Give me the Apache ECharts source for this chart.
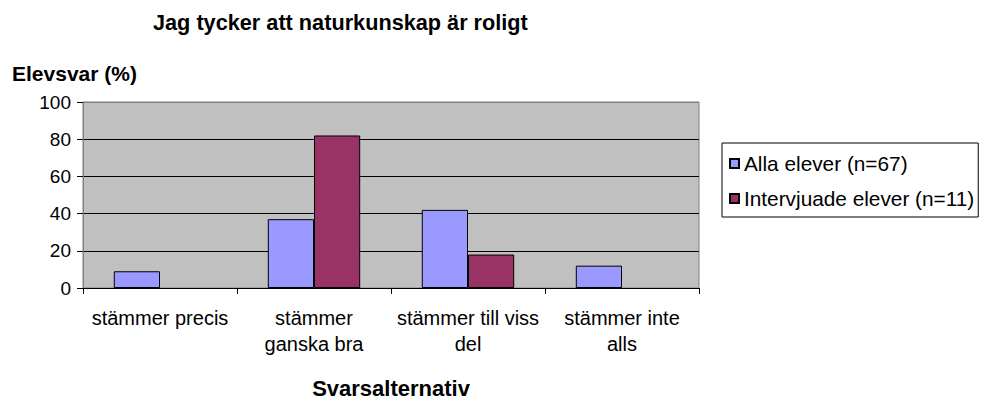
<!DOCTYPE html>
<html>
<head>
<meta charset="utf-8">
<script src="https://cdn.jsdelivr.net/npm/echarts@6/dist/echarts.min.js"></script>
<style>
	html, body { margin: 0; padding: 0; background: #fff; }
	#chart { width: 982px; height: 400px; }
</style>
</head>
<body>
<div id="chart"></div>
<script>
	var categories = ['stämmer precis', 'stämmer\nganska bra', 'stämmer till viss\ndel', 'stämmer inte\nalls'];
	// '-' = inget svar i den kategorin (ingen stapel ritas)
	var allaElever = [9, 37, 42, 12];
	var intervjuade = ['-', 82, 18, '-'];
	var yTicks = [0, 20, 40, 60, 80, 100];
	var seriesNames = ['Alla elever (n=67)', 'Intervjuade elever (n=11)'];

	var font = "'Liberation Sans', Arial, sans-serif";

	var option = {
		textStyle: {
			fontFamily: font,
			color: '#000'
		},
		title: [{
			text: 'Jag tycker att naturkunskap är roligt',
			left: 153,
			top: 11,
			padding: 0,
			textStyle: {
				fontFamily: font,
				fontSize: 21.7,
				fontWeight: 'bold',
				color: '#000'
			}
		}, {
			text: 'Elevsvar (%)',
			left: 12,
			top: 63,
			padding: 0,
			textStyle: {
				fontFamily: font,
				fontSize: 21,
				fontWeight: 'bold',
				color: '#000'
			}
		}],
		legend: {
			orient: 'vertical',
			left: 722,
			top: 143,
			padding: [10, 4, 8, 7],
			borderColor: '#000',
			borderWidth: 1,
			itemWidth: 9,
			itemHeight: 9,
			itemGap: 14,
			itemTextGap: 12,
			icon: 'rect',
			data: seriesNames,
			textStyle: {
				fontFamily: font,
				fontSize: 20.8,
				color: '#000'
			}
		},
		grid: {
			left: 83,
			right: 283,
			top: 102,
			bottom: 112,
			show: true,
			backgroundColor: '#C0C0C0',
			borderColor: '#808080',
			borderWidth: 1
		},
		xAxis: {
			type: 'category',
			data: categories,
			name: 'Svarsalternativ',
			nameLocation: 'middle',
			nameGap: 89,
			nameTextStyle: {
				fontFamily: font,
				fontSize: 22,
				fontWeight: 'bold',
				color: '#000'
			},
			axisLine: {
				lineStyle: { color: '#000', width: 1 }
			},
			axisTick: {
				show: true,
				length: 6,
				lineStyle: { color: '#000' }
			},
			axisLabel: {
				interval: 0,
				margin: 17,
				fontSize: 20,
				lineHeight: 26,
				color: '#000'
			},
			splitLine: { show: false }
		},
		yAxis: {
			type: 'value',
			min: yTicks[0],
			max: yTicks[yTicks.length - 1],
			interval: 20,
			axisLine: {
				show: true,
				lineStyle: { color: '#808080' }
			},
			axisTick: {
				show: true,
				length: 6,
				lineStyle: { color: '#000' }
			},
			axisLabel: {
				margin: 12,
				fontSize: 19,
				color: '#000'
			},
			splitLine: {
				show: true,
				lineStyle: {
					color: ['#000', '#000', '#000', '#000', '#000', '#808080'],
					width: 1
				}
			}
		},
		series: [{
			name: seriesNames[0],
			type: 'bar',
			data: allaElever,
			barGap: '0%',
			barCategoryGap: '40%',
			itemStyle: {
				color: '#9999FF',
				borderColor: '#000',
				borderWidth: 1
			}
		}, {
			name: seriesNames[1],
			type: 'bar',
			data: intervjuade,
			barGap: '0%',
			barCategoryGap: '40%',
			itemStyle: {
				color: '#993366',
				borderColor: '#000',
				borderWidth: 1
			}
		}]
	};

	var myChart = echarts.init(document.getElementById('chart'), null, { renderer: 'svg' });
	myChart.setOption(option);
</script>
</body>
</html>
